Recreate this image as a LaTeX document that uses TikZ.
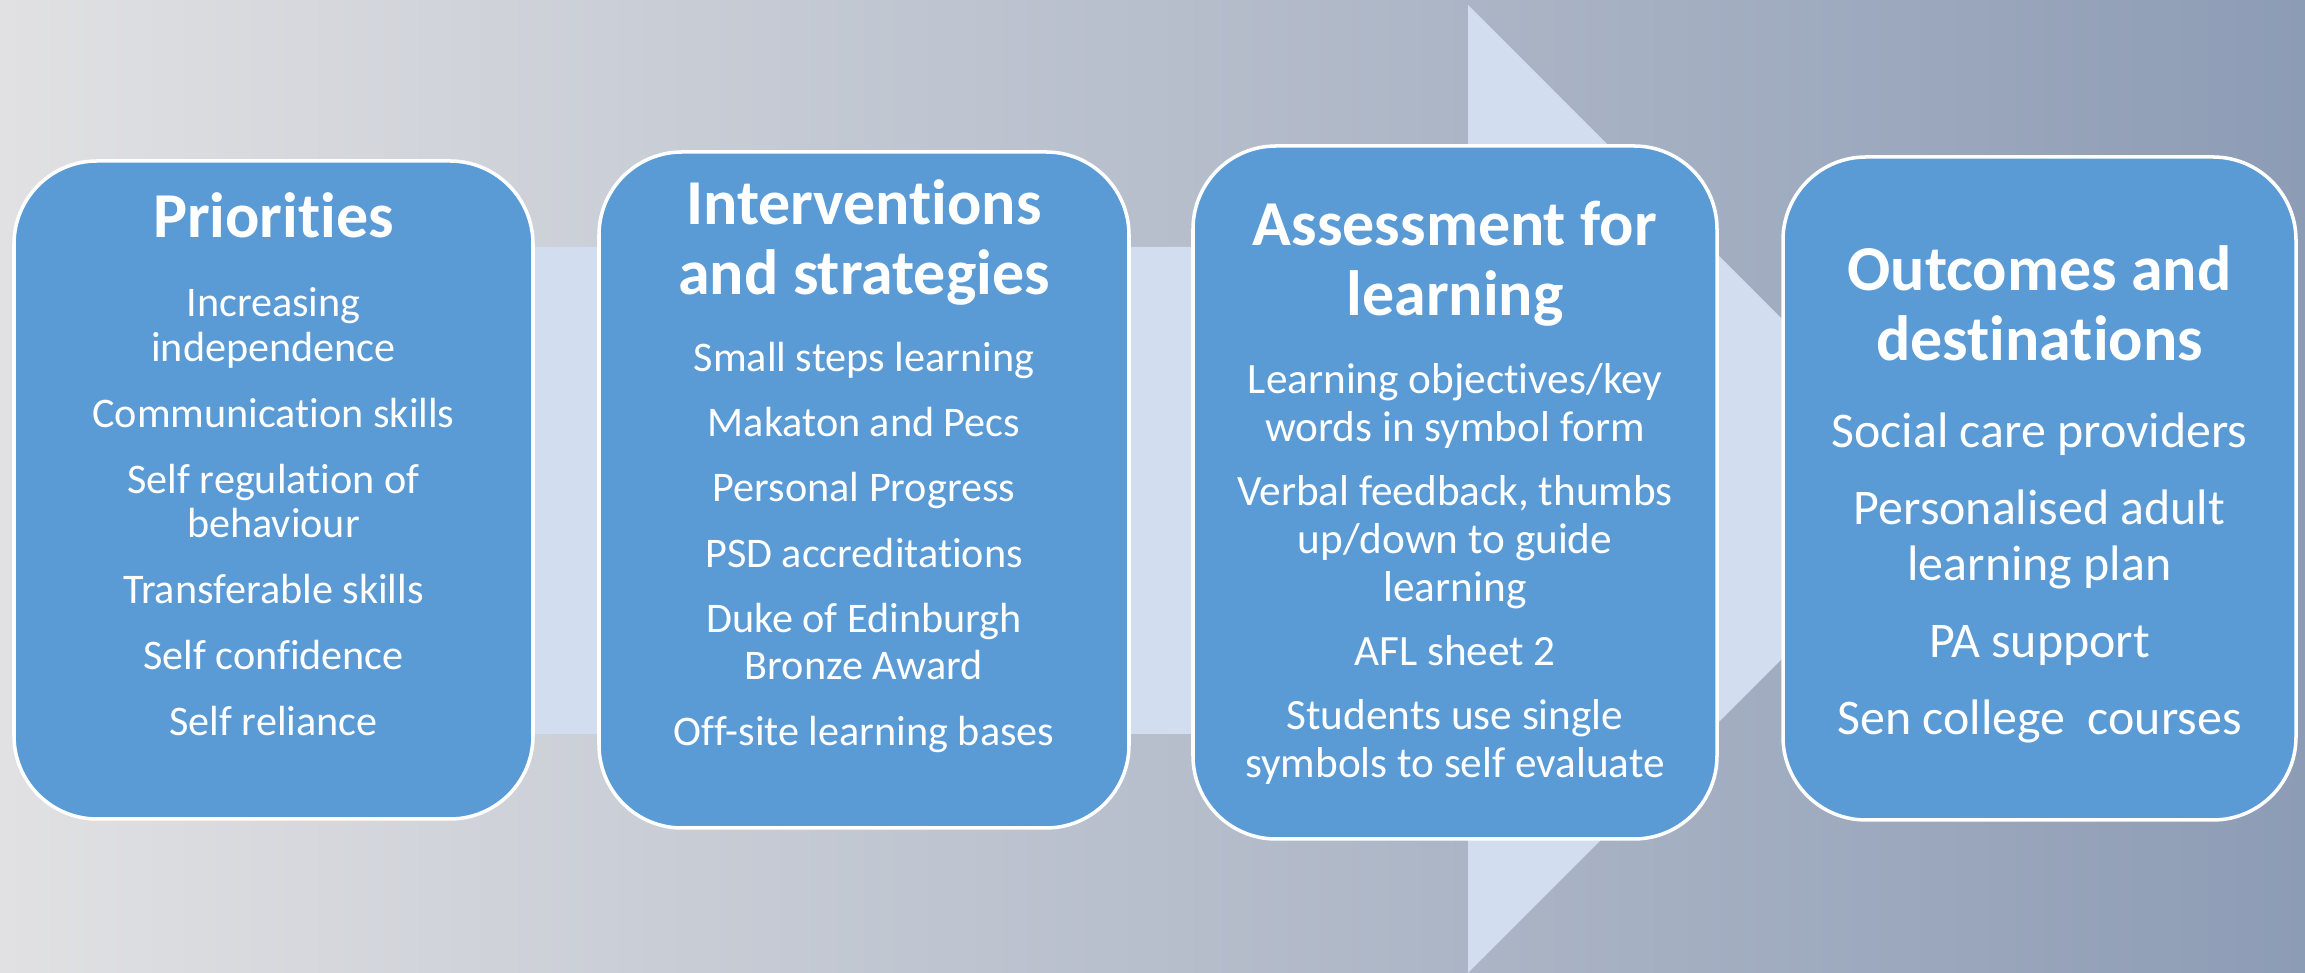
\documentclass[tikz,border=0pt]{standalone}
\usepackage{fontspec}
\setmainfont{Carlito}[Ligatures=NoCommon]
\usepackage{xcolor}
\usetikzlibrary{positioning}

\definecolor{bgleft}{HTML}{E1E1E3}
\definecolor{bgmid}{HTML}{BCC1CB}
\definecolor{bgright}{HTML}{8D9CB5}
\definecolor{shaftblue}{HTML}{D2DEEF}
\definecolor{stageblue}{HTML}{5B9BD5}

\begin{document}
\begin{tikzpicture}[
  stage/.style={draw=white, line width=1pt, fill=stageblue,
    rounded corners=0.83cm, inner sep=0pt},
  head/.style={text=white, align=center, inner sep=0pt,
    font=\fontsize{18.2}{19.9}\selectfont\bfseries},
  items/.style={text=white, align=center, inner sep=0pt}
]
  % background and the big arrow behind the boxes
  \shade[left color=bgleft, middle color=bgmid, right color=bgright]
    (0,0) rectangle (23.05,9.73);
  \useasboundingbox (0,0) rectangle (23.05,9.73);
  \fill[shaftblue] (1,2.39) -- (14.68,2.39) -- (14.68,0) -- (19.52,4.84)
    -- (14.68,9.68) -- (14.68,7.26) -- (1,7.26) -- cycle;

  \node[stage, minimum width=5.19cm, minimum height=6.58cm] (prio) at (2.735,4.83) {};
  \node[stage, minimum width=5.30cm, minimum height=6.76cm] (inter) at (8.64,4.83) {};
  \node[stage, minimum width=5.24cm, minimum height=6.93cm] (assess) at (14.55,4.805) {};
  \node[stage, minimum width=5.13cm, minimum height=6.63cm] (outcome) at (20.395,4.845) {};

  \node[head, below=0.33cm of prio.north] (priohead) {Priorities};
  \node[items, below=1.28cm of prio.north, font=\fontsize{12}{12.6}\selectfont]
    (prioitems) {Increasing\\independence\\[6.2pt]Communication skills\\[6.2pt]
    Self regulation of\\behaviour\\[6.2pt]Transferable skills\\[6.2pt]
    Self confidence\\[6.2pt]Self reliance};

  \node[head, below=0.29cm of inter.north] (interhead) {Interventions\\and strategies};
  \node[items, below=1.91cm of inter.north, font=\fontsize{12}{13.4}\selectfont]
    (interitems) {Small steps learning\\[5.2pt]Makaton and Pecs\\[5.2pt]
    Personal Progress\\[5.2pt]PSD accreditations\\[5.2pt]
    Duke of Edinburgh\\Bronze Award\\[5.2pt]Off-site learning bases};

  \node[head, below=0.56cm of assess.north] (assesshead) {Assessment for\\learning};
  \node[items, below=2.19cm of assess.north, font=\fontsize{12.3}{13.6}\selectfont]
    (assessitems) {Learning objectives/key\\words in symbol form\\[4.6pt]
    Verbal feedback, thumbs\\up/down to guide\\learning\\[4.6pt]AFL sheet 2\\[4.6pt]
    Students use single\\symbols to self evaluate};

  \node[head, below=0.90cm of outcome.north] (outcomehead) {Outcomes and\\destinations};
  \node[items, below=2.57cm of outcome.north, font=\fontsize{14.2}{15.9}\selectfont]
    (outcomeitems) {Social care providers\\[6pt]Personalised adult\\learning plan\\[6pt]
    PA support\\[6pt]Sen college\ \ courses};
\end{tikzpicture}
\end{document}
